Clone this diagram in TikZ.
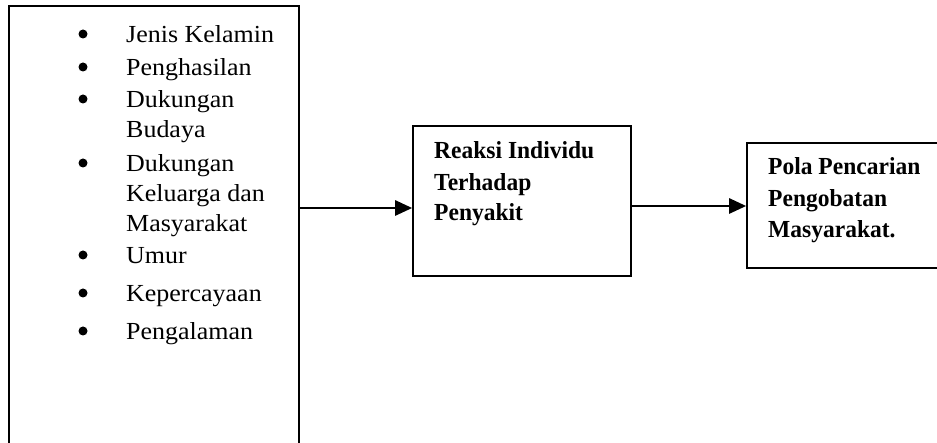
\documentclass[tikz,border=0pt]{standalone}
\usepackage{fontspec}
\setmainfont{Liberation Serif}[UprightFeatures={FakeStretch=1.06},BoldFeatures={FakeStretch=0.96}]
\usetikzlibrary{arrows.meta}
\begin{document}
\begin{tikzpicture}[x=1pt,y=-1pt,
  box/.style={draw,line width=1.6pt,inner sep=0pt,fill=none},
  txt/.style={anchor=base west,inner sep=0pt,font=\fontsize{24.5}{30}\selectfont},
  btxt/.style={txt,font=\fontsize{24.5}{30}\selectfont\bfseries},
  dot/.style={fill=black,circle,inner sep=0pt,minimum size=9pt},
  arr/.style={line width=2.6pt,-{Triangle[length=17pt,width=15pt]}}]
\useasboundingbox (0,0) rectangle (937,443);
\clip (0,0) rectangle (937,443);
% boxes
\node[box,minimum width=290pt,minimum height=470pt] (left) at (154,241) {};
\node[box,minimum width=218pt,minimum height=150pt] (mid) at (522,201) {};
\node[box,minimum width=213pt,minimum height=125pt] (right) at (853.5,205.5) {};
% left list
\node[txt] (t1) at (126,43) {Jenis Kelamin};
\node[txt] (t2) at (126,76) {Penghasilan};
\node[txt] (t3) at (126,108) {Dukungan};
\node[txt] (t3b) at (126,138) {Budaya};
\node[txt] (t4) at (126,172) {Dukungan};
\node[txt] (t4b) at (126,202) {Keluarga dan};
\node[txt] (t4c) at (126,232) {Masyarakat};
\node[txt] (t5) at (126,264) {Umur};
\node[txt] (t6) at (126,302) {Kepercayaan};
\node[txt] (t7) at (126,340) {Pengalaman};
\foreach \n/\y in {b1/43,b2/76,b3/108,b4/172,b5/264,b6/302,b7/340}
  \node[dot] (\n) at (83,\y-9) {};
% middle text
\node[btxt] (m1) at (434,159) {Reaksi Individu};
\node[btxt] (m2) at (434,191) {Terhadap};
\node[btxt] (m3) at (434,221) {Penyakit};
% right text
\node[btxt] (r1) at (768,175) {Pola Pencarian};
\node[btxt] (r2) at (768,207) {Pengobatan};
\node[btxt] (r3) at (768,238) {Masyarakat.};
% arrows
\coordinate (a1) at (0,208);
\coordinate (a2) at (0,206);
\draw[arr] (left.east |- a1) -- (mid.west |- a1);
\draw[arr] (mid.east |- a2) -- (right.west |- a2);
\end{tikzpicture}
\end{document}
